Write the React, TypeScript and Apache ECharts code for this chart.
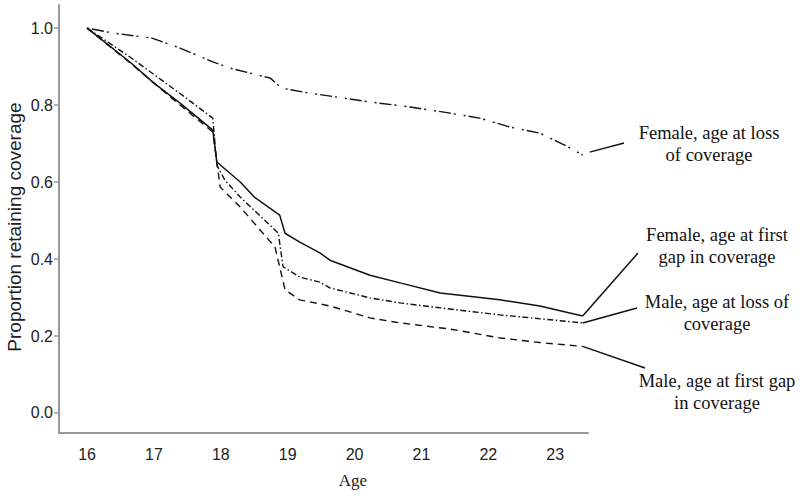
import React, { useEffect, useRef } from "react";
import * as echarts from "echarts";

const ageTicks = [16, 17, 18, 19, 20, 21, 22, 23];
const propTicks = [0, 0.2, 0.4, 0.6, 0.8, 1.0];

const femaleLossAge = [16, 16.39, 16.97, 17.39, 17.88, 18.14, 18.74, 18.91, 19.33, 20.23, 20.83, 21.43, 21.87, 22.32, 22.77, 23.14, 23.41];
const femaleLossVal = [1.0, 0.987, 0.974, 0.948, 0.912, 0.896, 0.87, 0.844, 0.831, 0.808, 0.795, 0.779, 0.766, 0.743, 0.727, 0.696, 0.67];

const femaleGapAge = [16, 16.64, 17.0, 17.39, 17.88, 17.94, 18.29, 18.5, 18.88, 18.96, 19.18, 19.48, 19.63, 20.23, 20.68, 21.28, 22.17, 22.77, 23.41];
const femaleGapVal = [1.0, 0.912, 0.857, 0.805, 0.735, 0.652, 0.6, 0.561, 0.514, 0.467, 0.444, 0.416, 0.397, 0.358, 0.338, 0.312, 0.294, 0.278, 0.252];

const maleLossAge = [16, 16.64, 17.39, 17.88, 17.94, 18.06, 18.29, 18.86, 18.93, 19.18, 19.48, 19.63, 20.23, 20.68, 21.28, 22.17, 23.41];
const maleLossVal = [1.0, 0.925, 0.83, 0.766, 0.644, 0.605, 0.561, 0.467, 0.38, 0.353, 0.34, 0.325, 0.299, 0.286, 0.273, 0.255, 0.234];

const maleGapAge = [16, 16.64, 17.39, 17.88, 17.99, 18.29, 18.81, 18.96, 19.18, 19.63, 20.23, 20.68, 21.43, 22.17, 22.77, 23.41];
const maleGapVal = [1.0, 0.91, 0.8, 0.73, 0.587, 0.535, 0.431, 0.32, 0.294, 0.278, 0.247, 0.234, 0.218, 0.195, 0.183, 0.173];

const labels = [
  { text: "Female, age at loss\nof coverage", tx: 709, ty: 144, ex: 624, ey: 143, sx: 7 },
  { text: "Female, age at first\ngap in coverage", tx: 717, ty: 246, ex: 638, ey: 253, sx: 0 },
  { text: "Male, age at loss of\ncoverage", tx: 717, ty: 313, ex: 637, ey: 308, sx: 0 },
  { text: "Male, age at first gap\nin coverage", tx: 717, ty: 392, ex: 645, ey: 368, sx: 0 },
];

const zip = (a: number[], b: number[]) => a.map((x, i) => [x, b[i]]);

export default function App() {
  const ref = useRef<HTMLDivElement>(null);
  useEffect(() => {
    if (!ref.current) return;
    const chart = echarts.init(ref.current, null, { renderer: "svg" });
    const ink = "#111";
    const sans = "Liberation Sans, Arial, sans-serif";
    const serif = "Liberation Serif, Times New Roman, serif";
    const mk = (name: string, data: number[][], type: any, width = 1.4) => ({
      name,
      type: "line",
      data,
      showSymbol: false,
      symbol: "none",
      lineStyle: { color: ink, width, type },
      z: 3,
    });
    const series = [
      mk("Female, age at loss of coverage", zip(femaleLossAge, femaleLossVal), [2, 3, 12, 3, 2, 8]),
      mk("Female, age at first gap in coverage", zip(femaleGapAge, femaleGapVal), "solid", 1.5),
      mk("Male, age at loss of coverage", zip(maleLossAge, maleLossVal), [6, 2.5, 1.5, 2.5]),
      mk("Male, age at first gap in coverage", zip(maleGapAge, maleGapVal), [7, 5]),
    ];
    chart.setOption({
      animation: false,
      backgroundColor: "#fff",
      grid: { left: 59, right: 212, top: 5, bottom: 65, containLabel: false },
      xAxis: {
        type: "value",
        min: 15.58,
        max: 23.49,
        axisLine: { show: true, onZero: false, lineStyle: { color: "#999", width: 2 } },
        axisTick: { show: false },
        splitLine: { show: false },
        axisLabel: {
          customValues: ageTicks,
          margin: 13,
          fontSize: 16,
          color: "#222",
          fontFamily: sans,
        },
      },
      yAxis: {
        type: "value",
        min: -0.052,
        max: 1.06,
        axisLine: { show: true, onZero: false, lineStyle: { color: "#999", width: 2 } },
        axisTick: { show: true, customValues: propTicks, length: 5, lineStyle: { color: "#999", width: 1.5 } },
        splitLine: { show: false },
        axisLabel: {
          customValues: propTicks,
          margin: 6,
          fontSize: 16,
          color: "#222",
          fontFamily: sans,
          formatter: (v: number) => v.toFixed(1),
        },
      },
      series,
    });
    const ends = series.map((s) => {
      const last = s.data[s.data.length - 1];
      return chart.convertToPixel({ gridIndex: 0 }, last) as number[];
    });
    const graphic: any[] = [
      {
        type: "text",
        x: 353,
        y: 480,
        style: { text: "Age", fontSize: 17, fontFamily: serif, fill: "#222", textAlign: "center", textVerticalAlign: "middle" },
      },
      {
        type: "text",
        x: 14,
        y: 227,
        rotation: Math.PI / 2,
        style: { text: "Proportion retaining coverage", fontSize: 19, fontFamily: sans, fill: "#222", textAlign: "center", textVerticalAlign: "middle" },
      },
    ];
    labels.forEach((l, i) => {
      const [px, py] = ends[i];
      graphic.push({
        type: "line",
        shape: { x1: px + l.sx, y1: py - (l.sx ? 3 : 0), x2: l.ex, y2: l.ey },
        style: { stroke: ink, lineWidth: 1.5 },
      });
      graphic.push({
        type: "text",
        x: l.tx,
        y: l.ty,
        style: { text: l.text, fontSize: 18.5, lineHeight: 22, fontFamily: serif, fill: "#111", textAlign: "center", textVerticalAlign: "middle" },
      });
    });
    chart.setOption({ graphic });
    return () => chart.dispose();
  }, []);
  return <div ref={ref} style={{ width: 800, height: 498, position: "absolute", left: 0, top: 0 }} />;
}
